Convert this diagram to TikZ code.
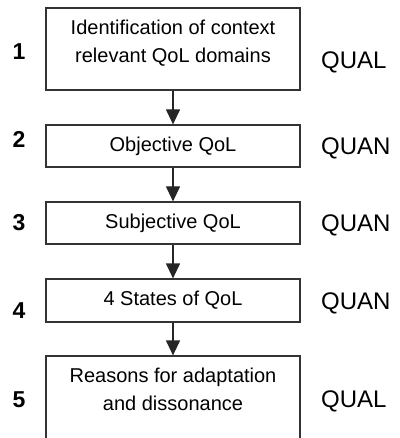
\documentclass[tikz,border=0pt]{standalone}
\usepackage{fontspec}
\setmainfont{Liberation Sans}
\usetikzlibrary{arrows.meta}

\begin{document}
\begin{tikzpicture}[x=1pt, y=-1pt,
    stage/.style={draw=black!80, line width=1.2pt, minimum width=254pt,
      inner sep=0pt, align=center, font=\fontsize{20}{28}\selectfont},
    num/.style={anchor=base, inner sep=0pt, font=\fontsize{23}{23}\selectfont\bfseries},
    kind/.style={anchor=base west, inner sep=0pt, font=\fontsize{24}{24}\selectfont},
    flow/.style={-{Triangle[width=14pt,length=15pt]}, line width=1.2pt, draw=black!85}]

  \useasboundingbox (0,0) rectangle (399,438);
  \clip (0,0) rectangle (399,438);

  % The five stages, top to bottom
  \node[stage, minimum height=82pt, text depth=14.5pt] (s1) at (173,49)
    {Identification of context\\relevant QoL domains};
  \node[stage, minimum height=42pt] (s2) at (173,146) {Objective QoL};
  \node[stage, minimum height=42pt] (s3) at (173,223) {Subjective QoL};
  \node[stage, minimum height=43pt] (s4) at (173,300.5) {4 States of QoL};
  \node[stage, minimum height=84pt, text depth=18.5pt] (s5) at (173,398)
    {Reasons for adaptation\\and dissonance};

  % Arrows between the stages
  \draw[flow] (s1.south) -- (s2.north);
  \draw[flow] (s2.south) -- (s3.north);
  \draw[flow] (s3.south) -- (s4.north);
  \draw[flow] (s4.south) -- (s5.north);

  % Step numbers on the left
  \node[num] (n1) at (19,60) {1};
  \node[num] (n2) at (19,148) {2};
  \node[num] (n3) at (19,230) {3};
  \node[num] (n4) at (19,318) {4};
  \node[num] (n5) at (19,407) {5};

  % Method of each step on the right
  \node[kind] (m1) at (321,69) {QUAL};
  \node[kind] (m2) at (321,155) {QUAN};
  \node[kind] (m3) at (321,231) {QUAN};
  \node[kind] (m4) at (321,309) {QUAN};
  \node[kind] (m5) at (321,407) {QUAL};

\end{tikzpicture}
\end{document}
